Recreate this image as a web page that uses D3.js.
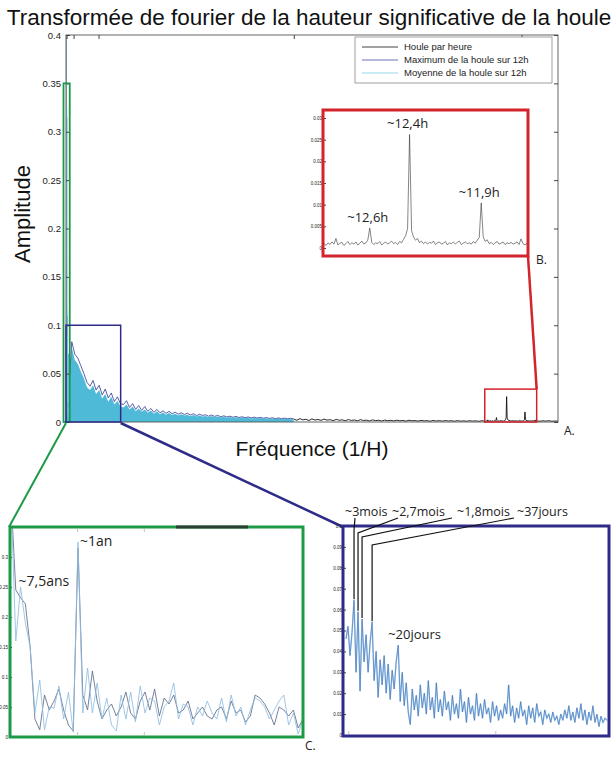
<!DOCTYPE html>
<html>
<head>
<meta charset="utf-8">
<script src="https://cdn.jsdelivr.net/npm/d3@7"></script>
<style>
  body { margin: 0; background: #fff; }
  svg { display: block; }
  .ax text { fill: #222; font-family: "Liberation Sans", Arial, sans-serif; }
  .ax path, .ax line { stroke: #444; }
  .ann { font-family: "Open Sans", sans-serif; font-size: 13px; fill: #222; }
</style>
</head>
<body>
<svg width="614" height="775"></svg>
<script>
// ---- data ----
const titleText = "Transformée de fourier de la hauteur significative de la houle";
const legendLabels = ["Houle par heure", "Maximum de la houle sur 12h", "Moyenne de la houle sur 12h"];
const mainTicksY = [0, 0.05, 0.1, 0.15, 0.2, 0.25, 0.3, 0.35, 0.4];
const periodTicksH = [8760, 720, 168, 24, 12]; // top ticks at 1/period
const insetCTicksY = [0, 0.05, 0.1, 0.15, 0.2, 0.25, 0.3];
const insetDTicksY = [0, 0.01, 0.02, 0.03, 0.04, 0.05, 0.06, 0.07, 0.08, 0.09, 0.1];
const insetBTicksY = [0, 0.005, 0.01, 0.015, 0.02, 0.025, 0.03];

// frequency spans (1/H)
const fC = [0, 0.0005];
const fMain = [0.0005, 1 / 24];
const fD = [0.0005, 0.01];
const fBLow = [1 / 24, 0.0766];
const fB = [0.0766, 0.0861];
const fBHigh = [0.0861, 0.09];

// inset C (lowest frequencies): max and mean of 12h
const cMax = [0.40,0.245,0.232,0.222,0.15,0.03,0.012,0.07,0.045,0.06,0.08,0.045,0.02,0.01,0.315,0.07,0.045,0.11,0.06,0.03,
  0.045,0.055,0.035,0.05,0.075,0.04,0.03,0.06,0.075,0.045,0.08,0.035,0.065,0.055,0.07,0.04,0.045,0.06,0.03,0.04,
  0.05,0.035,0.03,0.045,0.05,0.03,0.06,0.04,0.045,0.025,0.035,0.07,0.065,0.055,0.04,0.02,0.05,0.045,0.035,0.045,0.015,0.03];
const cMean = [0.40,0.16,0.25,0.19,0.15,0.04,0.095,0.012,0.05,0.048,0.085,0.03,0.075,0.008,0.325,0.04,0.115,0.04,0.09,0.03,
  0.065,0.02,0.01,0.07,0.03,0.075,0.025,0.085,0.04,0.065,0.06,0.02,0.05,0.06,0.09,0.03,0.055,0.05,0.02,0.05,
  0.035,0.06,0.04,0.03,0.065,0.025,0.07,0.035,0.05,0.02,0.045,0.065,0.06,0.05,0.03,0.045,0.06,0.07,0.02,0.04,0.005,0.03];

// main plot, 12h max and mean
const mainMax = [0.091,0.083,0.070,0.066,0.058,0.050,0.041,0.037,0.043,0.033,0.038,0.028,0.034,0.025,0.030,0.021,0.026,0.019,0.018,0.022,
  0.015,0.019,0.013,0.017,0.012,0.016,0.011,0.014,0.010,0.013,0.0095,0.0115,0.009,0.011,0.0085,0.0102,0.008,0.0095,0.0078,0.009,
  0.0072,0.0085,0.0066,0.008,0.0068,0.0074,0.006,0.0072,0.0058,0.0068,0.0054,0.0064,0.0052,0.006,0.0049,0.0058,0.0046,0.0054,0.0045,0.0052,
  0.0043,0.005,0.0041,0.0048,0.0039,0.0046,0.0037,0.0044,0.0035,0.0042,0.0034,0.004,0.0033,0.0038,0.0032];
const mainMean = [0.086,0.077,0.064,0.060,0.052,0.045,0.036,0.033,0.038,0.029,0.033,0.024,0.029,0.021,0.026,0.018,0.022,0.016,0.015,0.018,
  0.013,0.016,0.011,0.014,0.0105,0.013,0.0095,0.012,0.0085,0.011,0.008,0.0098,0.0076,0.0092,0.0072,0.0086,0.0068,0.008,0.0066,0.0076,
  0.006,0.0072,0.0056,0.0068,0.0057,0.0062,0.0051,0.0061,0.0049,0.0057,0.0046,0.0054,0.0044,0.0051,0.0042,0.0049,0.0039,0.0046,0.0038,0.0044,
  0.0036,0.0042,0.0035,0.0041,0.0033,0.0039,0.0031,0.0037,0.003,0.0035,0.0029,0.0034,0.0028,0.0032,0.0027];

// inset D (0.0005 .. 0.01)
const dSeries = [0.046,0.052,0.038,0.049,0.0645,0.030,0.059,0.021,0.0555,0.035,0.048,0.030,0.044,0.054,0.026,0.040,0.018,0.036,0.024,0.038,
  0.020,0.034,0.017,0.031,0.022,0.035,0.043,0.016,0.030,0.014,0.025,0.011,0.005,0.022,0.012,0.019,0.009,0.024,0.013,0.020,
  0.010,0.026,0.012,0.018,0.008,0.025,0.011,0.017,0.009,0.021,0.012,0.016,0.007,0.019,0.010,0.015,0.008,0.022,0.011,0.016,
  0.006,0.018,0.010,0.014,0.007,0.020,0.009,0.015,0.008,0.017,0.010,0.013,0.006,0.016,0.009,0.014,0.007,0.012,0.008,0.015,
  0.010,0.024,0.009,0.014,0.006,0.013,0.008,0.016,0.009,0.012,0.005,0.014,0.008,0.013,0.006,0.015,0.009,0.011,0.005,0.012,
  0.008,0.010,0.006,0.011,0.007,0.009,0.005,0.010,0.007,0.012,0.008,0.014,0.007,0.011,0.006,0.013,0.008,0.015,0.007,0.012,
  0.005,0.011,0.007,0.014,0.006,0.010,0.004,0.009,0.006,0.008,0.007];

// hourly series
const hourlyLow = [0.0030,0.0018,0.0035,0.0022,0.0028,0.0015,0.0032,0.0020,0.0026,0.0017,0.0030,0.0019,0.0024,0.0014,0.0027,0.0018,
  0.0022,0.0013,0.0025,0.0016,0.0021,0.0012,0.0024,0.0015,0.0019,0.0011,0.0022,0.0014,0.0018,0.0010,0.0020,0.0013,
  0.0017,0.0011,0.0019,0.0012,0.0016,0.0009,0.0018,0.0012,0.0015,0.0009,0.0017,0.0011,0.0014,0.0008,0.0016,0.0010,
  0.0014,0.0009,0.0015,0.0010,0.0013,0.0008,0.0014,0.0009,0.0012,0.0008,0.0013,0.0009,0.0012,0.0007,0.0013,0.0010];
const hourlyB = [0.0010,0.0006,0.0012,0.0008,0.0014,0.0009,0.0022,0.0007,0.0011,0.0013,0.0006,0.0010,0.0015,0.0008,0.0012,0.0009,
  0.0014,0.0007,0.0011,0.0016,0.0009,0.0012,0.0018,0.0046,0.0013,0.0008,0.0012,0.0010,0.0015,0.0007,0.0011,0.0014,
  0.0009,0.0012,0.0016,0.0010,0.0013,0.0008,0.0015,0.0012,0.0020,0.0028,0.0045,0.0262,0.0040,0.0025,0.0018,0.0022,
  0.0012,0.0016,0.0010,0.0014,0.0009,0.0013,0.0011,0.0016,0.0008,0.0012,0.0014,0.0009,0.0011,0.0015,0.0007,0.0012,
  0.0010,0.0014,0.0009,0.0013,0.0016,0.0008,0.0011,0.0014,0.0010,0.0012,0.0009,0.0015,0.0011,0.0018,0.0024,0.0104,
  0.0026,0.0015,0.0019,0.0010,0.0013,0.0008,0.0012,0.0015,0.0009,0.0011,0.0014,0.0008,0.0012,0.0010,0.0013,0.0009,
  0.0011,0.0014,0.0008,0.0021,0.0010,0.0007,0.0011];
const hourlyHigh = [0.0011,0.0008,0.0012,0.0009,0.0013,0.0008,0.0010,0.0009];

// peaks annotated (index into their series)
const bPeaks = [{i: 23, label: "~12,6h"}, {i: 43, label: "~12,4h"}, {i: 79, label: "~11,9h"}];
const dPeaks = [{i: 4, label: "~3mois"}, {i: 6, label: "~2,7mois"}, {i: 8, label: "~1,8mois"}, {i: 13, label: "~37jours"}];

// ---- drawing ----
const green = "#1c9a47", navy = "#2f2b88", red = "#d3232b";
const cBlue = "#4fbad8", maxBlue = "#2c3a92";
const svg = d3.select("svg");

function spread(vals, span) {
  return vals.map((a, i) => ({f: span[0] + (span[1] - span[0]) * i / (vals.length - 1), a}));
}

// main plot
const x = d3.scaleLinear().domain([0, 0.09]).range([66, 558]);
const y = d3.scaleLinear().domain([0, 0.4]).range([422, 35]);

svg.append("text").attr("x", 309).attr("y", 25).attr("text-anchor", "middle")
  .style("font-family", "Liberation Sans, Arial, sans-serif").style("font-size", "22.5px").attr("fill", "#111")
  .text(titleText);

svg.append("clipPath").attr("id", "clipMain").append("rect")
  .attr("x", 66).attr("y", 35).attr("width", 492).attr("height", 387);

const gMain = svg.append("g").attr("clip-path", "url(#clipMain)");
const hourly = spread(hourlyLow, fBLow).concat(spread(hourlyB, fB), spread(hourlyHigh, fBHigh));
const meanPts = spread(cMean, fC).concat(spread(mainMean, fMain).slice(1));
const maxPts = spread(cMax, fC).concat(spread(mainMax, fMain).slice(1));

const lineMain = d3.line().x(d => x(d.f)).y(d => y(d.a));
gMain.append("path").datum(hourly).attr("d", lineMain)
  .attr("fill", "none").attr("stroke", "#111").attr("stroke-width", 0.9);
gMain.append("path").datum(meanPts)
  .attr("d", d3.area().x(d => x(d.f)).y0(y(0)).y1(d => y(d.a)))
  .attr("fill", cBlue);
gMain.append("path").datum(maxPts).attr("d", lineMain)
  .attr("fill", "none").attr("stroke", maxBlue).attr("stroke-width", 0.8);
gMain.append("path").datum(meanPts.slice(0, cMean.length)).attr("d", lineMain)
  .attr("fill", "none").attr("stroke", "#6cc6e0").attr("stroke-width", 0.8);

svg.append("rect").attr("x", 66).attr("y", 35).attr("width", 492).attr("height", 387)
  .attr("fill", "none").attr("stroke", "#555").attr("stroke-width", 0.9);

svg.append("g").attr("class", "ax").attr("transform", "translate(66,0)")
  .call(d3.axisLeft(y).tickValues(mainTicksY).tickSize(-4).tickSizeOuter(0).tickPadding(5).tickFormat(d => String(d)))
  .call(g => g.select(".domain").remove())
  .call(g => g.selectAll("text").style("font-size", "9.5px"));
svg.append("g").attr("class", "ax").attr("transform", "translate(558,0)")
  .call(d3.axisRight(y).tickValues(mainTicksY).tickSize(-4).tickSizeOuter(0).tickFormat(""))
  .call(g => g.select(".domain").remove());
svg.append("g").attr("class", "ax").attr("transform", "translate(0,35)")
  .call(d3.axisTop(x).tickValues(periodTicksH.map(h => 1 / h)).tickSize(-4).tickSizeOuter(0).tickFormat(""))
  .call(g => g.select(".domain").remove());

svg.append("text").attr("transform", "translate(30,214) rotate(-90)").attr("text-anchor", "middle")
  .style("font-family", "Liberation Sans, Arial, sans-serif").style("font-size", "22px").attr("fill", "#111")
  .text("Amplitude");
svg.append("text").attr("x", 312).attr("y", 456).attr("text-anchor", "middle")
  .style("font-family", "Liberation Sans, Arial, sans-serif").style("font-size", "21px").attr("fill", "#111")
  .text("Fréquence (1/H)");

// legend
const lg = svg.append("g");
lg.append("rect").attr("x", 355).attr("y", 37).attr("width", 197).attr("height", 46)
  .attr("fill", "#fff").attr("stroke", "#888").attr("stroke-width", 0.8);
const legendColors = ["#111", "#4b4ba8", "#79cde4"];
legendLabels.forEach((t, i) => {
  const yy = 47 + i * 13;
  lg.append("line").attr("x1", 362).attr("x2", 398).attr("y1", yy).attr("y2", yy)
    .attr("stroke", legendColors[i]).attr("stroke-width", 0.8);
  lg.append("text").attr("x", 404).attr("y", yy + 3.3)
    .style("font-family", "Liberation Sans, Arial, sans-serif").style("font-size", "9.5px").attr("fill", "#222")
    .text(t);
});

// zoom boxes in the main plot
svg.append("rect").attr("x", x(fC[0]) - 2.5).attr("y", y(0.35)).attr("width", x(fC[1]) - x(fC[0]) + 3.5)
  .attr("height", y(0) - y(0.35)).attr("fill", "none").attr("stroke", green).attr("stroke-width", 1.8);
svg.append("rect").attr("x", x(0)).attr("y", y(0.1)).attr("width", x(fD[1]) - x(0))
  .attr("height", y(0) - y(0.1)).attr("fill", "none").attr("stroke", navy).attr("stroke-width", 1.5);
svg.append("rect").attr("x", x(fB[0])).attr("y", y(0.034)).attr("width", x(fB[1]) - x(fB[0]))
  .attr("height", y(0) - y(0.034)).attr("fill", "none").attr("stroke", red).attr("stroke-width", 1.5);

// connectors
svg.append("line").attr("x1", 66).attr("y1", 423).attr("x2", 9).attr("y2", 527)
  .attr("stroke", green).attr("stroke-width", 2);
svg.append("line").attr("x1", x(fD[1])).attr("y1", 423).attr("x2", 343).attr("y2", 527)
  .attr("stroke", navy).attr("stroke-width", 2.5);
svg.append("line").attr("x1", x(fB[1])).attr("y1", y(0.034)).attr("x2", 528).attr("y2", 256)
  .attr("stroke", red).attr("stroke-width", 2.5);

svg.append("text").attr("x", 564).attr("y", 435).attr("class", "ann").style("font-size", "12px").text("A.");

// tiny inset axis helper
function tinyAxis(g, scale, ticks, xPos) {
  g.append("g").attr("class", "ax").attr("transform", `translate(${xPos},0)`)
    .call(d3.axisLeft(scale).tickValues(ticks).tickSize(-2).tickSizeOuter(0).tickPadding(2).tickFormat(d => String(d)))
    .call(s => s.select(".domain").remove())
    .call(s => s.selectAll("text").style("font-size", "4.5px").attr("fill", "#777"))
    .call(s => s.selectAll("line").attr("stroke", "#999"));
}

// ---- inset B ----
const xB = d3.scaleLinear().domain(fB).range([324, 527]);
const yB = d3.scaleLinear().domain([0, 0.03]).range([248, 118]);
const gB = svg.append("g");
gB.append("rect").attr("x", 323).attr("y", 110).attr("width", 205).attr("height", 146).attr("fill", "#fff");
tinyAxis(gB, yB, insetBTicksY, 324);
const bPts = spread(hourlyB, fB);
gB.append("path").datum(bPts).attr("d", d3.line().x(d => xB(d.f)).y(d => yB(d.a)))
  .attr("fill", "none").attr("stroke", "#333").attr("stroke-width", 0.6);
gB.append("rect").attr("x", 323).attr("y", 110).attr("width", 205).attr("height", 146)
  .attr("fill", "none").attr("stroke", red).attr("stroke-width", 3);
bPeaks.forEach(p => {
  const d = bPts[p.i];
  gB.append("text").attr("class", "ann").attr("text-anchor", "middle")
    .attr("x", xB(d.f) - 2).attr("y", yB(d.a) - 6).text(p.label);
});
svg.append("text").attr("x", 536).attr("y", 264).attr("class", "ann").style("font-size", "12px").text("B.");

// ---- inset C ----
const xC = d3.scaleLinear().domain(fC).range([11, 303]);
const yC = d3.scaleLinear().domain([0, 0.35]).range([737, 527]);
const gC = svg.append("g");
svg.append("clipPath").attr("id", "clipC").append("rect")
  .attr("x", 10).attr("y", 527).attr("width", 293).attr("height", 210);
tinyAxis(gC, yC, insetCTicksY, 10);
const lineC = d3.line().x(d => xC(d.f)).y(d => yC(d.a));
const gCd = gC.append("g").attr("clip-path", "url(#clipC)");
gCd.append("path").datum(spread(cMax, fC)).attr("d", lineC)
  .attr("fill", "none").attr("stroke", "#5e6c86").attr("stroke-width", 0.85);
gCd.append("path").datum(spread(cMean, fC)).attr("d", lineC)
  .attr("fill", "none").attr("stroke", "#8fbde0").attr("stroke-width", 0.85);
[1 / 8760, 1 / 4380].forEach(f => {
  gC.append("line").attr("x1", xC(f)).attr("x2", xC(f)).attr("y1", 735).attr("y2", 732).attr("stroke", "#999").attr("stroke-width", 0.6);
  gC.append("line").attr("x1", xC(f)).attr("x2", xC(f)).attr("y1", 529).attr("y2", 532).attr("stroke", "#999").attr("stroke-width", 0.6);
});
gC.append("rect").attr("x", 10).attr("y", 527).attr("width", 293).attr("height", 210)
  .attr("fill", "none").attr("stroke", green).attr("stroke-width", 3);
gC.append("line").attr("x1", 176).attr("x2", 248).attr("y1", 527).attr("y2", 527)
  .attr("stroke", "#2c4033").attr("stroke-width", 3);
const cp = spread(cMean, fC);
gC.append("text").attr("class", "ann").attr("x", xC(cp[2].f) - 2).attr("y", 586).style("font-size", "14px").text("~7,5ans");
gC.append("text").attr("class", "ann").attr("x", xC(cp[14].f) + 2).attr("y", 546).style("font-size", "14px").text("~1an");
svg.append("text").attr("x", 305).attr("y", 750).attr("class", "ann").style("font-size", "12px").text("C.");

// ---- inset D ----
const xD = d3.scaleLinear().domain(fD).range([346, 607]);
const yD = d3.scaleLinear().domain([0, 0.1]).range([735, 526]);
const gD = svg.append("g");
tinyAxis(gD, yD, insetDTicksY, 344);
const dPts = spread(dSeries, fD);
const lineD = d3.line().x(d => xD(d.f)).y(d => yD(d.a));
gD.append("path").datum(dPts).attr("d", lineD)
  .attr("fill", "none").attr("stroke", "#a6d6f0").attr("stroke-width", 1.5);
gD.append("path").datum(dPts).attr("d", lineD)
  .attr("fill", "none").attr("stroke", "#4565b0").attr("stroke-width", 0.6);
[fD[0] + 0.0001, 1 / 168].forEach(f => {
  gD.append("line").attr("x1", xD(f)).attr("x2", xD(f)).attr("y1", 734).attr("y2", 731).attr("stroke", "#999").attr("stroke-width", 0.6);
});
gD.append("rect").attr("x", 343).attr("y", 526).attr("width", 266).attr("height", 210)
  .attr("fill", "none").attr("stroke", navy).attr("stroke-width", 3);

// annotation leaders (knee height and label position are layout)
const dLayout = [{knee: 530, lx: 355, tx: 345}, {knee: 533, lx: 398, tx: 392}, {knee: 537, lx: 452, tx: 457}, {knee: 545, lx: 514, tx: 517}];
dPeaks.forEach((p, k) => {
  const d = dPts[p.i], L = dLayout[k];
  const px = xD(d.f);
  gD.append("path").attr("d", `M${px},${yD(d.a) - 1}L${px},${L.knee}L${L.lx},518`)
    .attr("fill", "none").attr("stroke", "#111").attr("stroke-width", 1.2);
  gD.append("text").attr("class", "ann").style("font-size", "12.5px").attr("x", L.tx).attr("y", 516).text(p.label);
});
gD.append("text").attr("class", "ann").attr("x", xD(dPts[26].f) - 10).attr("y", 639).text("~20jours");
</script>
</body>
</html>
